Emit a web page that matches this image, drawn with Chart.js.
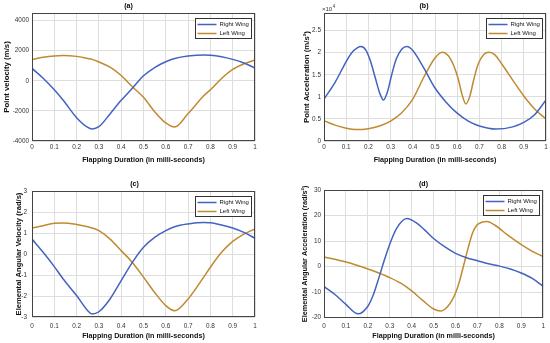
<!DOCTYPE html>
<html>
<head>
<meta charset="utf-8">
<script src="https://cdn.jsdelivr.net/npm/chart.js@4"></script>
<style>
  body { margin: 0; background: #fff; }
  canvas { position: absolute; }
</style>
</head>
<body>
<canvas id="chartA" width="275" height="172" style="left:0;top:0"></canvas>
<canvas id="chartB" width="275" height="172" style="left:275px;top:0"></canvas>
<canvas id="chartC" width="275" height="171" style="left:0;top:172px"></canvas>
<canvas id="chartD" width="275" height="171" style="left:275px;top:172px"></canvas>
<script>
// x ticks (milli-seconds)
const timeTicks = [0, 0.1, 0.2, 0.3, 0.4, 0.5, 0.6, 0.7, 0.8, 0.9, 1];

// (a) point velocity (m/s) and (c) elemental angular velocity (rad/s)
const velTime = [0, 0.05, 0.1, 0.14, 0.2, 0.25, 0.27, 0.3, 0.35, 0.4, 0.45, 0.5, 0.55, 0.6, 0.64, 0.7, 0.77, 0.8, 0.85, 0.9, 0.95, 1];
const velRight = [820, 170, -600, -1290, -2450, -3100, -3200, -3050, -2200, -1300, -500, 330, 880, 1260, 1480, 1640, 1710, 1700, 1600, 1420, 1180, 850];
const velLeft = [1420, 1560, 1650, 1680, 1620, 1480, 1420, 1250, 900, 350, -400, -1100, -2050, -2800, -3070, -2180, -1000, -600, 150, 750, 1120, 1380];
const velTicks = [-4000, -2000, 0, 2000, 4000];

const angVelRight = [0.71, 0.08, -0.6, -1.19, -1.98, -2.7, -2.86, -2.75, -2.14, -1.27, -0.4, 0.32, 0.79, 1.11, 1.3, 1.43, 1.5, 1.49, 1.38, 1.24, 1.03, 0.75];
const angVelLeft = [1.24, 1.35, 1.46, 1.48, 1.41, 1.3, 1.24, 1.11, 0.71, 0.16, -0.4, -1.1, -1.83, -2.46, -2.7, -2.14, -1.1, -0.63, 0.08, 0.6, 0.95, 1.19];
const angVelTicks = [-3, -2, -1, 0, 1, 2, 3];

// (b) point acceleration (m/s^2)
const accRightTime = [0, 0.05, 0.1, 0.125, 0.15, 0.167, 0.19, 0.21, 0.23, 0.25, 0.268, 0.285, 0.305, 0.325, 0.35, 0.374, 0.4, 0.45, 0.5, 0.55, 0.6, 0.65, 0.7, 0.774, 0.85, 0.9, 0.95, 1];
const accRight = [9500, 13300, 18000, 20000, 21100, 21400, 20500, 18000, 14500, 11000, 9300, 11000, 15000, 18500, 20800, 21400, 20500, 16500, 12000, 8800, 6300, 4500, 3400, 2700, 3200, 4200, 6000, 9300];
const accLeftTime = [0, 0.05, 0.1, 0.144, 0.2, 0.25, 0.3, 0.35, 0.4, 0.45, 0.5, 0.533, 0.56, 0.585, 0.605, 0.622, 0.639, 0.656, 0.675, 0.695, 0.72, 0.744, 0.77, 0.8, 0.85, 0.9, 0.95, 1];
const accLeft = [4600, 3600, 2900, 2600, 2800, 3400, 4500, 6400, 9500, 14500, 18800, 20100, 19300, 17000, 14000, 10500, 8400, 10000, 14000, 17500, 19600, 20100, 19500, 17500, 13800, 10200, 7200, 5000];
const accTicks = [0, 5000, 10000, 15000, 20000, 25000];

// (d) elemental angular acceleration (rad/s^2)
const angAccRightTime = [0, 0.05, 0.1, 0.155, 0.2, 0.225, 0.25, 0.275, 0.3, 0.33, 0.378, 0.42, 0.46, 0.5, 0.55, 0.6, 0.65, 0.7, 0.75, 0.8, 0.85, 0.9, 0.95, 1];
const angAccRight = [-7.8, -10.9, -14.8, -18.5, -15.5, -11, -4.5, 2.5, 8.8, 14.8, 18.8, 17.2, 14.3, 11.0, 7.8, 5.2, 3.5, 2.3, 1.1, 0.2, -0.9, -2.5, -4.6, -7.7];
const angAccLeftTime = [0, 0.1, 0.2, 0.25, 0.3, 0.35, 0.4, 0.45, 0.5, 0.533, 0.56, 0.585, 0.6, 0.616, 0.646, 0.676, 0.695, 0.72, 0.744, 0.78, 0.84, 0.9, 0.95, 1];
const angAccLeft = [3.8, 1.8, -0.9, -2.5, -4.3, -6.5, -9.5, -13.2, -16.6, -17.4, -16.0, -13.0, -10.3, -6.3, 3.5, 12.8, 16.0, 17.4, 17.7, 16.2, 12.2, 8.6, 6.0, 3.9];
const angAccTicks = [-20, -10, 0, 10, 20, 30];

const FONT = "'Liberation Sans', Arial, sans-serif";
const BLUE = '#4363c0';
const ORANGE = '#bf8a30';

function pts(t, v) {
  return t.map((x, i) => ({ x: x, y: v[i] }));
}

// box around the plot + legend inside top right corner
const axesBox = {
  id: 'axesBox',
  afterDraw(chart) {
    const { ctx, chartArea: a } = chart;
    ctx.save();
    ctx.strokeStyle = '#444';
    ctx.lineWidth = 1;
    ctx.strokeRect(Math.round(a.left) + 0.5, Math.round(a.top) + 0.5,
      Math.round(a.right - a.left) - 1, Math.round(a.bottom - a.top) - 1);

    const w = 56, h = 20;
    const x = Math.round(a.right - 4 - w) + 0.5;
    const y = Math.round(a.top + 5) + 0.5;
    ctx.fillStyle = '#fff';
    ctx.fillRect(x, y, w, h);
    ctx.strokeStyle = '#333';
    ctx.strokeRect(x, y, w, h);
    ctx.font = '6px ' + FONT;
    ctx.textBaseline = 'middle';
    chart.data.datasets.forEach((ds, i) => {
      const cy = y + 6 + i * 9;
      ctx.strokeStyle = ds.borderColor;
      ctx.lineWidth = 1.5;
      ctx.beginPath();
      ctx.moveTo(x + 2, cy);
      ctx.lineTo(x + 21, cy);
      ctx.stroke();
      ctx.fillStyle = '#111';
      ctx.fillText(ds.label, x + 24, cy);
    });
    ctx.restore();
  }
};

// the "x10^4" multiplier of panel (b)
const exponentLabel = {
  id: 'exponentLabel',
  afterDraw(chart) {
    const { ctx, chartArea: a } = chart;
    ctx.save();
    ctx.fillStyle = '#333';
    ctx.textBaseline = 'alphabetic';
    ctx.font = '6px ' + FONT;
    const x = a.left - 2;
    ctx.fillText('\u00d710', x, a.top - 2);
    const w = ctx.measureText('\u00d710').width;
    ctx.font = '4.5px ' + FONT;
    ctx.fillText('4', x + w + 0.5, a.top - 5);
    ctx.restore();
  }
};

function buildChart(id, c) {
  const ctx = document.getElementById(id).getContext('2d');
  return new Chart(ctx, {
    type: 'line',
    data: {
      datasets: [
        { label: 'Right Wing', data: pts(c.tR, c.right), borderColor: BLUE },
        { label: 'Left Wing', data: pts(c.tL, c.left), borderColor: ORANGE }
      ]
    },
    options: {
      responsive: false,
      animation: false,
      events: [],
      datasets: {
        line: { borderWidth: 1.5, pointRadius: 0, fill: false, cubicInterpolationMode: 'monotone' }
      },
      layout: { padding: { left: c.padLeft, right: c.padRight, top: 0, bottom: 0 } },
      plugins: {
        legend: { display: false },
        tooltip: { enabled: false },
        title: {
          display: true,
          text: c.title,
          color: '#000',
          font: { family: FONT, size: 7, weight: 'bold' },
          padding: { top: c.titleTop, bottom: c.titleBottom }
        }
      },
      scales: {
        x: {
          type: 'linear',
          min: 0,
          max: 1,
          afterBuildTicks: s => { s.ticks = timeTicks.map(v => ({ value: v })); },
          afterFit: s => { s.height = c.xHeight; },
          grid: { color: '#dedede', drawTicks: false },
          border: { display: false },
          ticks: {
            color: '#333', padding: c.xTickPad, maxRotation: 0, autoSkip: false,
            font: { family: FONT, size: 6.4 },
            callback: v => String(v)
          },
          title: {
            display: true,
            text: 'Flapping Duration (in milli-seconds)',
            color: '#111',
            font: { family: FONT, size: 7.2, weight: 'bold' },
            padding: { top: 0, bottom: c.xTitlePad }
          }
        },
        y: {
          min: c.yMin,
          max: c.yMax,
          afterBuildTicks: s => { s.ticks = c.yTicks.map(v => ({ value: v })); },
          afterFit: s => { s.width = c.yWidth; },
          grid: { color: '#dedede', drawTicks: false },
          border: { display: false },
          ticks: {
            color: '#333', padding: c.yTickPad,
            font: { family: FONT, size: 6.4 },
            callback: c.yFormat || (v => String(v))
          },
          title: {
            display: true,
            text: c.yTitle,
            color: '#111',
            font: { family: FONT, size: c.yTitleSize || 7.8, weight: 'bold' },
            padding: { top: 0, bottom: 0 }
          }
        }
      }
    },
    plugins: [axesBox].concat(c.extra || [])
  });
}

buildChart('chartA', {
  title: '(a)', tR: velTime, right: velRight, tL: velTime, left: velLeft,
  yMin: -4000, yMax: 4500, yTicks: velTicks, yTitle: 'Point velocity (m/s)',
  padLeft: 2, yWidth: 30, padRight: 20, titleTop: 2, titleBottom: 2.6,
  xHeight: 31, xTickPad: 2, xTitlePad: 7.8, yTickPad: 3
});

buildChart('chartB', {
  title: '(b)', tR: accRightTime, right: accRight, tL: accLeftTime, left: accLeft,
  yMin: 0, yMax: 29000, yTicks: accTicks, yTitle: 'Point Acceleration (m/s\u00b2)',
  yFormat: v => String(v / 10000),
  padLeft: 27, yWidth: 22, padRight: 4, titleTop: 2, titleBottom: 2.6,
  xHeight: 31, xTickPad: 2, xTitlePad: 7.8, yTickPad: 3,
  extra: [exponentLabel]
});

buildChart('chartC', {
  title: '(c)', tR: velTime, right: angVelRight, tL: velTime, left: angVelLeft,
  yMin: -3, yMax: 3, yTicks: angVelTicks, yTitle: 'Elemental Angular Velocity (rad/s)',
  yTitleSize: 7.6,
  padLeft: 14, yWidth: 18, padRight: 20, titleTop: 8.1, titleBottom: 2.5,
  xHeight: 26, xTickPad: 5, xTitlePad: 2.8, yTickPad: 5
});

buildChart('chartD', {
  title: '(d)', tR: angAccRightTime, right: angAccRight, tL: angAccLeftTime, left: angAccLeft,
  yMin: -20, yMax: 30, yTicks: angAccTicks, yTitle: 'Elemental Angular Acceleration (rad/s\u00b2)',
  yTitleSize: 7.3,
  padLeft: 26, yWidth: 23, padRight: 4, titleTop: 8.1, titleBottom: 1.5,
  xHeight: 25.3, xTickPad: 5, xTitlePad: 2.8, yTickPad: 3
});
</script>
</body>
</html>
